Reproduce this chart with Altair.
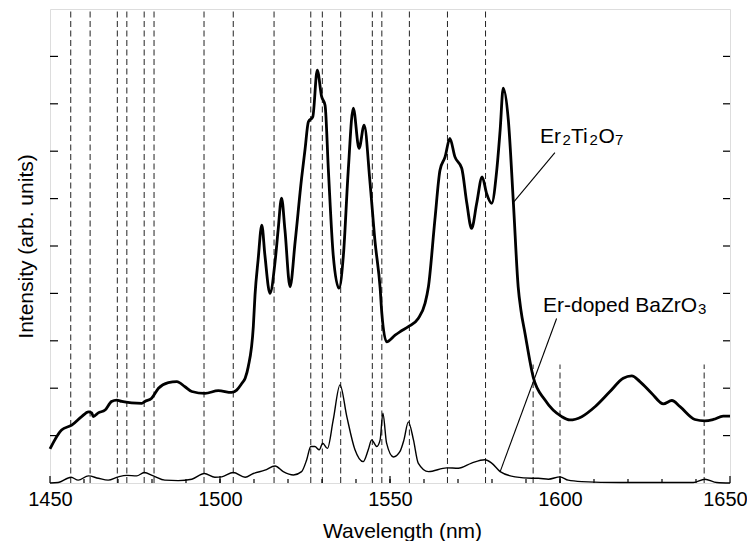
import altair as alt
import pandas as pd

# ---------------- data ----------------
# Er2Ti2O7 (thick curve)
er2ti2o7_nm = [1450.0, 1453.4, 1456.4, 1459.3, 1461.3, 1462.3, 1462.7, 1464.2, 1466.2, 1468.1,
               1469.6, 1471.1, 1474.0, 1477.0, 1477.9, 1479.9, 1481.9, 1484.8, 1487.3, 1489.7,
               1491.7, 1495.6, 1499.5, 1503.4, 1504.9, 1506.4, 1507.4, 1508.3, 1509.8, 1510.3,
               1511.2, 1512.3, 1513.2, 1514.7, 1516.2, 1517.1, 1518.1, 1519.1, 1520.6, 1522.1,
               1524.0, 1525.0, 1526.0, 1527.3, 1528.6, 1529.9, 1530.9, 1531.9, 1533.3, 1535.0,
               1536.3, 1537.7, 1539.2, 1540.9, 1542.4, 1544.1, 1545.6, 1547.1, 1547.6, 1549.0,
               1551.5, 1552.9, 1555.4, 1558.3, 1560.3, 1561.3, 1563.2, 1564.7, 1566.2, 1567.6,
               1569.1, 1571.1, 1572.6, 1574.0, 1575.5, 1577.1, 1578.4, 1579.9, 1581.4, 1582.4,
               1583.3, 1584.8, 1586.3, 1587.7, 1588.5, 1589.7, 1592.1, 1595.6, 1600.5, 1602.9,
               1606.4, 1610.3, 1614.7, 1618.6, 1621.1, 1623.5, 1627.0, 1630.4, 1632.9, 1635.3,
               1639.7, 1642.6, 1645.1, 1648.0, 1650.0]
er2ti2o7_int = [0.72, 1.12, 1.22, 1.40, 1.50, 1.48, 1.40, 1.48, 1.54, 1.72,
                1.75, 1.72, 1.69, 1.68, 1.72, 1.79, 2.00, 2.12, 2.14, 2.03,
                1.93, 1.89, 1.95, 1.91, 1.96, 2.10, 2.21, 2.45, 3.30, 3.97,
                4.70, 5.44, 4.81, 4.00, 4.67, 5.34, 6.01, 5.34, 4.14, 5.09,
                6.43, 7.03, 7.62, 7.73, 8.71, 8.15, 7.97, 6.57, 4.81, 4.11,
                4.81, 6.57, 7.91, 7.06, 7.55, 6.36, 5.09, 4.11, 3.58, 2.98,
                3.12, 3.19, 3.30, 3.47, 3.79, 4.14, 5.55, 6.60, 6.88, 7.27,
                6.88, 6.64, 5.90, 5.37, 5.90, 6.46, 6.11, 5.90, 6.60, 7.45,
                8.33, 7.66, 5.90, 4.14, 3.65, 3.16, 2.24, 1.75, 1.40, 1.33,
                1.40, 1.61, 1.93, 2.21, 2.26, 2.14, 1.89, 1.67, 1.74, 1.61,
                1.34, 1.31, 1.34, 1.41, 1.41]

# Er-doped BaZrO3 (thin curve)
bazro3_nm = [1450.0, 1452.4, 1456.2, 1458.3, 1461.3, 1464.2, 1467.1, 1470.1, 1472.6, 1475.5,
             1477.7, 1480.4, 1483.8, 1487.7, 1491.7, 1495.4, 1498.5, 1500.5, 1503.9, 1507.4,
             1509.8, 1513.2, 1516.2, 1518.6, 1521.6, 1524.0, 1525.5, 1526.7, 1527.9, 1529.2,
             1530.2, 1531.6, 1533.3, 1535.3, 1537.3, 1539.7, 1542.1, 1543.6, 1544.6, 1546.1,
             1547.1, 1547.9, 1549.0, 1551.0, 1552.9, 1554.1, 1555.4, 1556.9, 1558.3, 1561.3,
             1566.7, 1570.1, 1574.0, 1577.9, 1579.9, 1582.4, 1586.8, 1591.7, 1593.6, 1596.6,
             1600.0, 1602.4, 1606.4, 1617.6, 1629.4, 1639.2, 1642.6, 1646.1, 1650.0]
bazro3_int = [0.00, 0.01, 0.12, 0.06, 0.15, 0.10, 0.06, 0.13, 0.16, 0.15,
              0.22, 0.15, 0.06, 0.05, 0.08, 0.20, 0.12, 0.13, 0.22, 0.12,
              0.20, 0.27, 0.36, 0.24, 0.17, 0.24, 0.49, 0.77, 0.77, 0.70,
              0.84, 0.73, 1.33, 2.07, 1.40, 0.70, 0.45, 0.70, 0.91, 0.77,
              0.91, 1.47, 0.84, 0.55, 0.66, 0.91, 1.29, 0.91, 0.42, 0.24,
              0.32, 0.31, 0.42, 0.49, 0.42, 0.24, 0.13, 0.10, 0.10, 0.08,
              0.13, 0.06, 0.03, 0.01, 0.01, 0.01, 0.08, 0.01, 0.00]

# dashed reference lines (wavelength, top of line in intensity units)
ref_nm = [1456.1, 1461.8, 1469.8, 1472.6, 1477.7, 1480.6, 1495.3, 1503.9, 1515.9, 1526.7,
          1530.1, 1535.5, 1544.8, 1547.6, 1555.7, 1566.9, 1578.1, 1592.1, 1600.0, 1642.4]
ref_top = [10] * 17 + [2.5, 2.5, 2.5]

x_labels = [1450, 1500, 1550, 1600, 1650]
x_minor = list(range(1460, 1650, 10))
y_ticks = [1, 2, 3, 4, 5, 6, 7, 8, 9]

# annotations
ann_lines_x = [1598.5, 1586.3, 1599.0, 1582.4]
ann_lines_y = [6.97, 5.92, 3.47, 0.24]
ann_lines_id = ["a", "a", "b", "b"]

# ---------------- chart ----------------
FONT = "Liberation Sans"
W, H = 680, 474
xs = alt.Scale(domain=[1450, 1650], nice=False, zero=False)
ys = alt.Scale(domain=[0, 10], nice=False, zero=False)

df_thick = pd.DataFrame({"nm": er2ti2o7_nm, "I": er2ti2o7_int})
df_thin = pd.DataFrame({"nm": bazro3_nm, "I": bazro3_int})
df_ref = pd.DataFrame({"nm": ref_nm, "top": ref_top, "bottom": [0] * len(ref_nm)})

xaxis = alt.Axis(values=x_labels, format="d", ticks=False, grid=False, domain=False,
                 labelFlush=False, labelOverlap=False,
                 labelFontSize=20, labelFont=FONT, labelColor="black", labelPadding=6,
                 labelOffset={"condition": {"test": "datum.value == 1650", "value": -5}, "value": 0},
                 title="Wavelength (nm)",
                 titleFont=FONT, titleFontSize=21, titleFontWeight="normal", titleColor="black",
                 titleX=352, titleY=54, titleBaseline="alphabetic", titleAlign="center")
yaxis = alt.Axis(labels=False, ticks=False, grid=False, domain=False,
                 title="Intensity (arb. units)", titleFont=FONT, titleFontSize=21,
                 titleFontWeight="normal", titleColor="black", titleX=-18, titleY=237,
                 titleAngle=270, titleBaseline="alphabetic", titleAlign="center")

refs = alt.Chart(df_ref).mark_rule(color="#222222", strokeWidth=1, strokeDash=[6, 3.5]).encode(
    x=alt.X("nm:Q", scale=xs, axis=xaxis),
    y=alt.Y("bottom:Q", scale=ys, axis=yaxis),
    y2="top:Q",
)

thick = alt.Chart(df_thick).mark_line(color="black", strokeWidth=2.8, interpolate="monotone").encode(
    x=alt.X("nm:Q", scale=xs), y=alt.Y("I:Q", scale=ys))
thin = alt.Chart(df_thin).mark_line(color="black", strokeWidth=1.4, interpolate="monotone").encode(
    x=alt.X("nm:Q", scale=xs), y=alt.Y("I:Q", scale=ys))

xmaj = alt.Chart(pd.DataFrame({"v": x_labels})).mark_rule(color="black", strokeWidth=1.2).encode(
    x=alt.X("v:Q", scale=xs), y=alt.value(H), y2=alt.value(H - 7))
xmin = alt.Chart(pd.DataFrame({"v": x_minor})).mark_rule(color="black", strokeWidth=1.2).encode(
    x=alt.X("v:Q", scale=xs), y=alt.value(H), y2=alt.value(H - 4))
yl = alt.Chart(pd.DataFrame({"v": y_ticks})).mark_rule(color="black", strokeWidth=1.2).encode(
    y=alt.Y("v:Q", scale=ys), x=alt.value(0), x2=alt.value(8))
yr = alt.Chart(pd.DataFrame({"v": y_ticks})).mark_rule(color="black", strokeWidth=1.2).encode(
    y=alt.Y("v:Q", scale=ys), x=alt.value(W), x2=alt.value(W - 7))

lead = alt.Chart(pd.DataFrame({"nm": ann_lines_x, "I": ann_lines_y, "id": ann_lines_id})).mark_line(
    color="black", strokeWidth=1.1).encode(
    x=alt.X("nm:Q", scale=xs), y=alt.Y("I:Q", scale=ys), detail="id:N")


def txt(text, nm, val, size, dx=0):
    return alt.Chart(pd.DataFrame({"nm": [nm], "I": [val], "t": [text]})).mark_text(
        font=FONT, fontSize=size, align="left", baseline="alphabetic", color="black", dx=dx
    ).encode(x=alt.X("nm:Q", scale=xs), y=alt.Y("I:Q", scale=ys), text="t:N")


labels = [
    txt("Er", 1594.1, 7.17, 21, 0),
    txt("2", 1594.1, 7.13, 15, 22.5),
    txt("Ti", 1594.1, 7.17, 21, 31),
    txt("2", 1594.1, 7.13, 15, 49.5),
    txt("O", 1594.1, 7.17, 21, 58.5),
    txt("7", 1594.1, 7.13, 15, 75),
    txt("Er-doped BaZrO", 1595.0, 3.61, 21, 0),
    txt("3", 1595.0, 3.57, 15, 155),
]

chart = alt.layer(refs, thin, thick, xmaj, xmin, yl, yr, lead, *labels).properties(
    width=W, height=H,
    autosize=alt.AutoSizeParams(type="none"),
    padding={"left": 42, "top": 1, "right": 17, "bottom": 58},
).configure_view(stroke="black", strokeWidth=1.6).configure(background="white")

chart.save("out.html", embed_options={"renderer": "svg", "actions": False})
